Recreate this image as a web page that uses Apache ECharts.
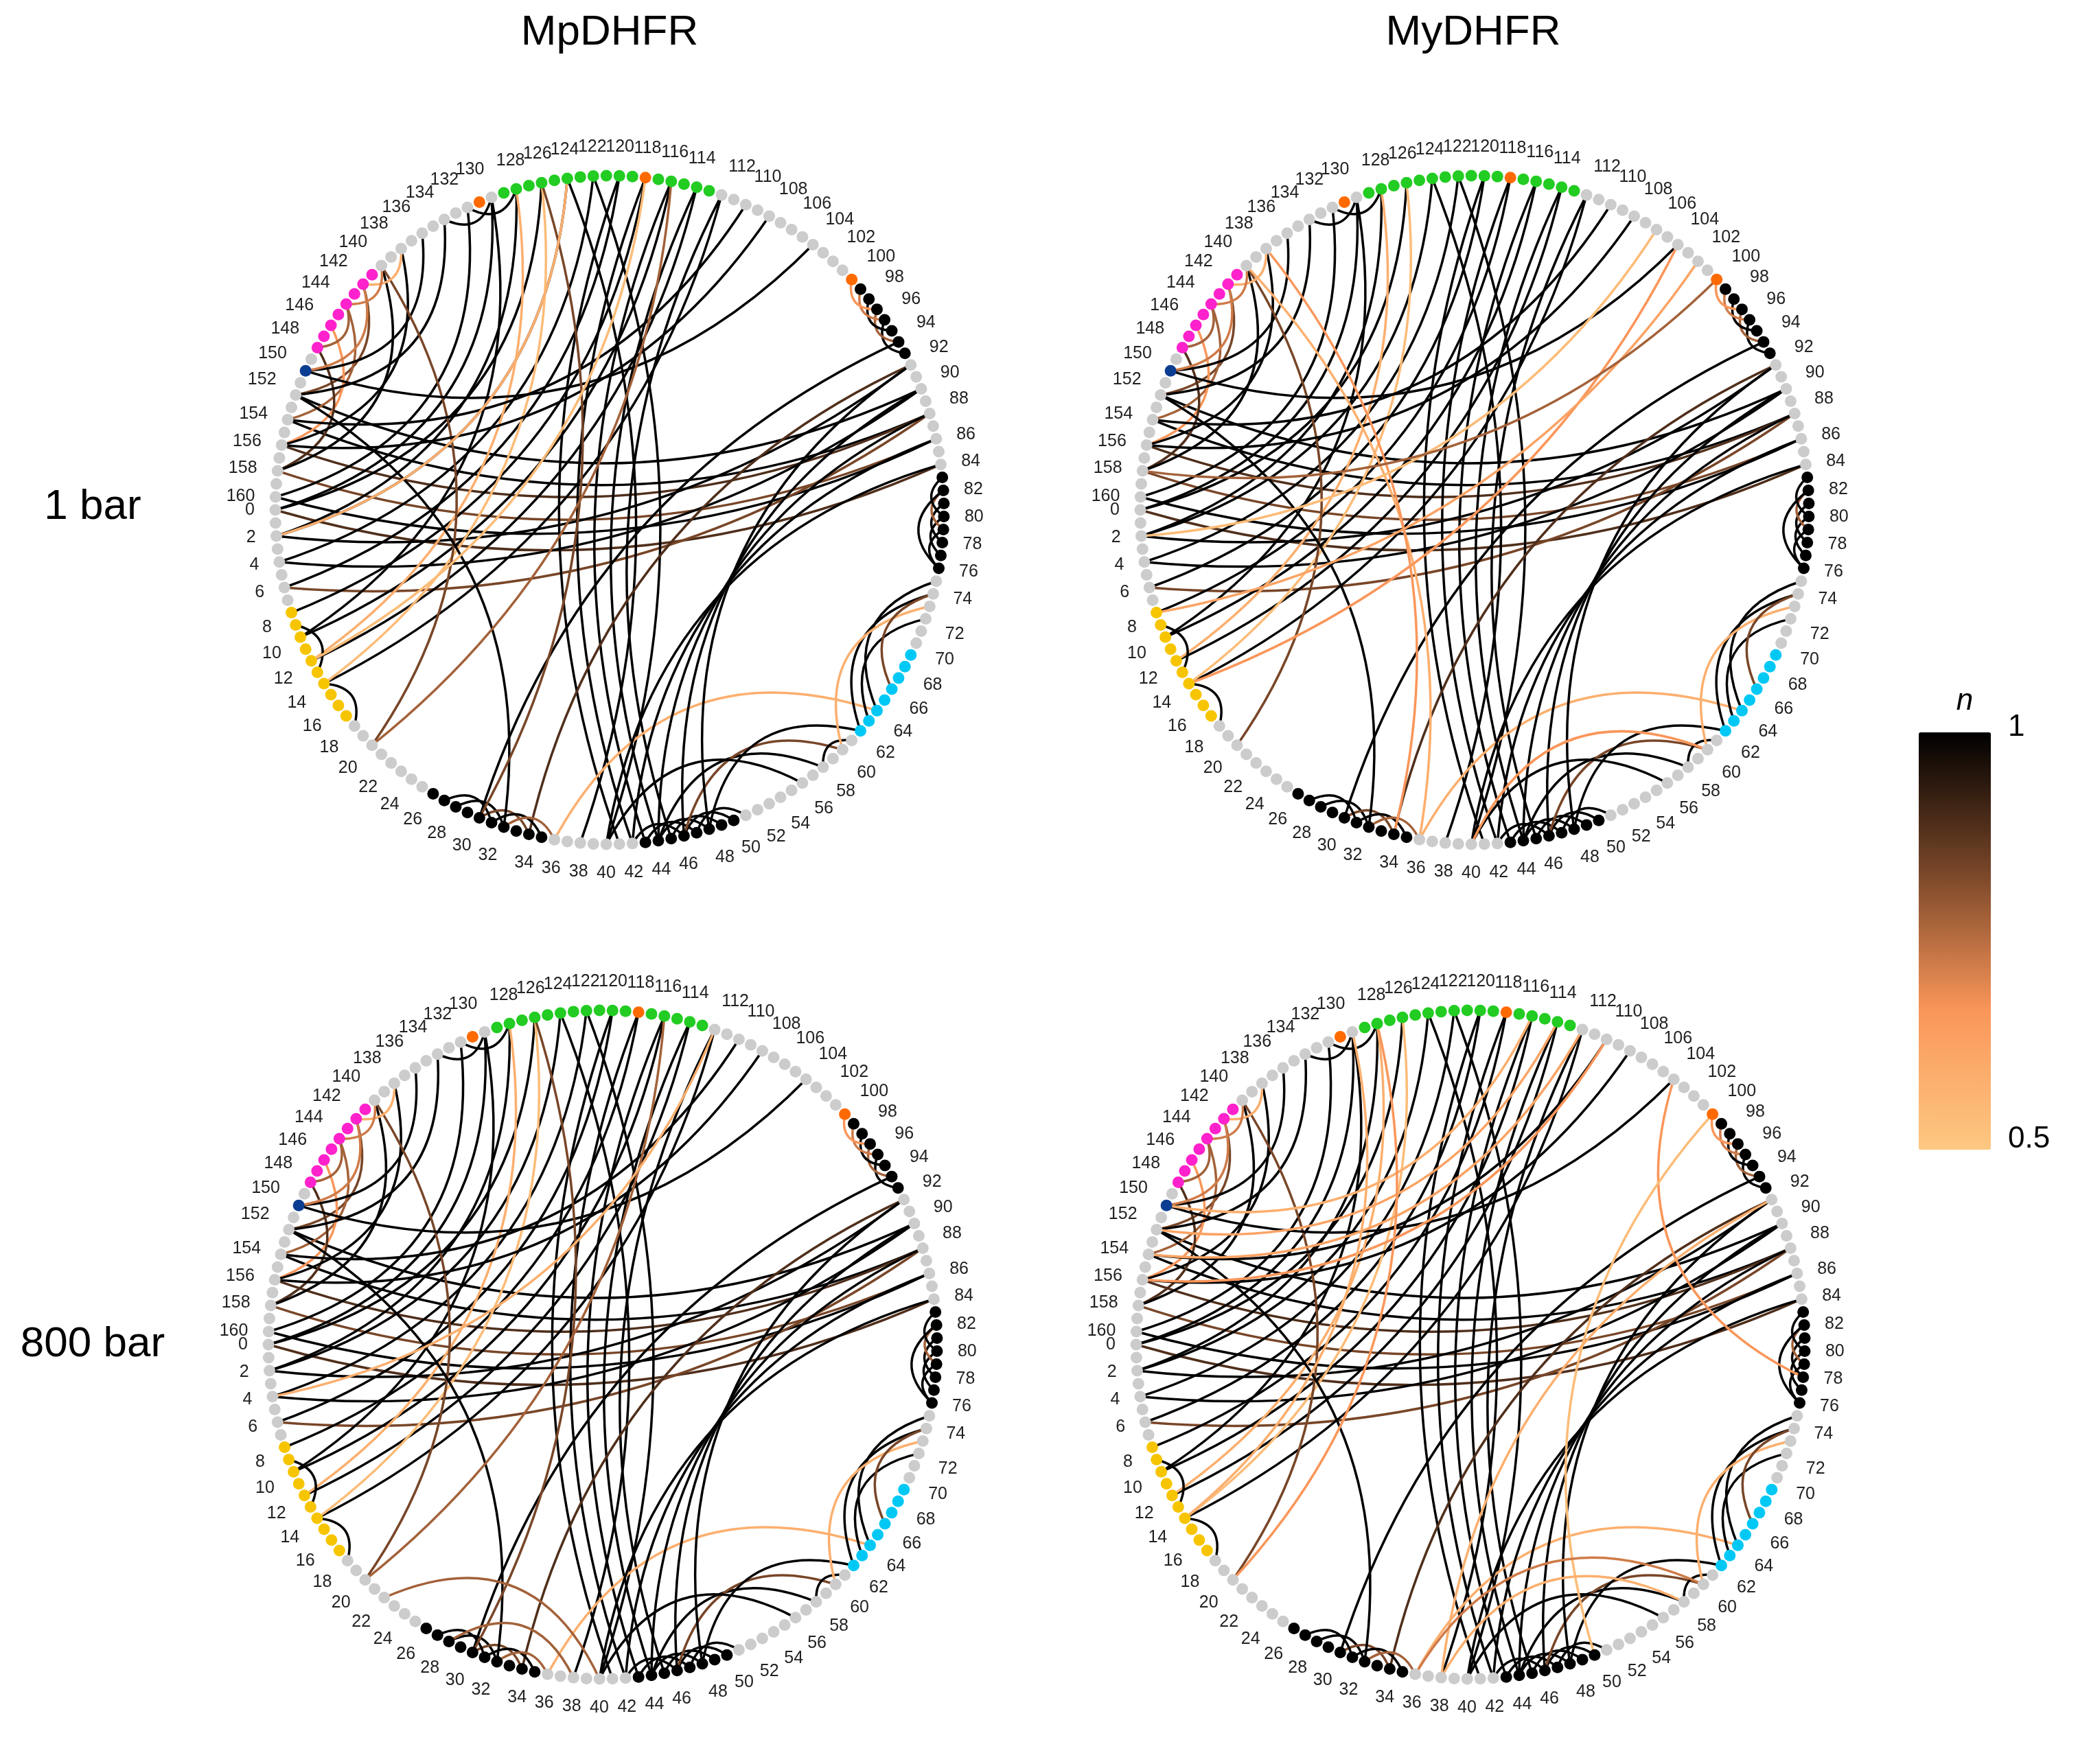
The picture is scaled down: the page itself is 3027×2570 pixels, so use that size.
<!DOCTYPE html>
<html><head><meta charset="utf-8">
<script src="https://cdn.jsdelivr.net/npm/echarts@6/dist/echarts.min.js"></script>
<style>html,body{margin:0;background:#fff}#c{width:3027px;height:2570px}</style>
</head><body><div id="c"></div>
<script>
// ---- data ----
const nodeCount = 161;
const tickLabels = Array.from({length: 81}, (_, k) => String(k * 2));
// colored residue segments [from, to, color]
const segments = [
  [8, 17, '#f7c500'], [26, 35, '#000000'], [43, 50, '#000000'], [62, 69, '#00c8f5'],
  [76, 83, '#000000'], [93, 99, '#000000'], [100, 100, '#ff6a00'], [113, 129, '#22cc22'],
  [118, 118, '#ff6a00'], [131, 131, '#ff6a00'], [141, 148, '#ff22cc'], [150, 150, '#0b3d91']
];
// contacts shared by all panels [residue a, residue b, n]
const baseEdges = [
  [152,90,1],[154,88,1],[156,88,0.9],[158,86,0.85],[160,86,1],[0,84,0.9],[2,92,1],[4,90,1],[6,88,0.85],
  [0,126,1],[2,124,1],[4,122,1],[6,120,1],[8,118,1],[10,116,1],[12,114,1],[14,112,1],
  [142,152,0.85],[144,154,0.8],[146,156,0.7],[148,158,0.9],[136,150,1],[134,152,1],[138,156,1],[140,158,1],[132,160,1],[130,0,1],[128,2,1],
  [124,38,1],[122,40,1],[120,41,1],[118,42,1],[116,43,1],[114,44,1],[112,45,1],
  [94,30,1],[92,34,0.9],[28,32,1],[30,34,0.85],[31,35,1],[32,36,0.8],[27,31,1],
  [43,47,1],[44,48,1],[45,49,1],[46,50,1],[47,51,1],[42,46,1],
  [58,44,1],[60,46,0.85],[62,48,1],[64,36,0.6],[56,40,1],[58,61,1],
  [74,62,1],[75,64,1],[73,60,0.6],[72,63,1],[74,66,0.85],
  [76,79,1],[77,80,1],[78,81,1],[79,82,0.8],[80,83,1],[76,82,1],
  [93,96,1],[94,97,0.8],[95,98,1],[96,99,0.75],[97,100,0.7],
  [44,88,1],[46,90,1],[48,92,1],[40,84,1],[42,86,1],
  [10,130,1],[12,128,0.6],[14,126,0.55],[20,140,0.85],[9,13,1],[14,18,1],
  [128,132,1],[130,134,1],[138,142,0.6],[140,144,0.75],[142,150,0.75],[144,148,0.8],
  [152,32,1],[150,104,1],[154,110,1],[156,108,1]
];
const edgesMpDHFR1bar = [[126,30,0.85],[124,2,0.6],[116,20,0.8],[12,118,0.55]];
const edgesMyDHFR1bar = [[140,36,0.6],[138,34,0.7],[104,14,0.7],[102,8,0.65],[106,2,0.55],[60,40,0.7],[158,100,0.8]];
const edgesMpDHFR800bar = [[126,30,0.85],[116,20,0.8],[4,112,0.6],[22,40,0.8],[28,38,0.8]];
const edgesMyDHFR800bar = [[152,114,0.65],[154,112,0.65],[156,110,0.7],[150,116,0.6],[104,78,0.7],[100,50,0.55],[92,38,0.6],[14,130,0.6],[20,128,0.7],[60,36,0.75],[58,38,0.6]];
const titles = ['MpDHFR', 'MyDHFR'];
const rowLabels = ['1 bar', '800 bar'];

// ---- helpers ----
const stops = [[0.5,[253,200,130]],[0.7,[250,150,90]],[0.85,[120,70,40]],[1,[0,0,0]]];
function colorOf(n){
  for (let i=1;i<stops.length;i++){
    if (n<=stops[i][0]){
      const a=stops[i-1],b=stops[i],t=(n-a[0])/(b[0]-a[0]);
      const c=a[1].map((v,k)=>Math.round(v+(b[1][k]-v)*t));
      return 'rgb('+c.join(',')+')';
    }
  }
  return '#000';
}
function nodeColor(i){
  let c='#cccccc';
  segments.forEach(s=>{ if(i>=s[0]&&i<=s[1]) c=s[2]; });
  return c;
}
const nodes = Array.from({length: nodeCount}, (_, i) => ({
  name: String(i), value: [1, i], itemStyle: {color: nodeColor(i)}
}));
function links(extra){
  return baseEdges.concat(extra).filter(e=>e[0]!==e[1]).map(e=>{
    let d=Math.abs(e[0]-e[1]); d=Math.min(d,nodeCount-d);
    const forward=((e[1]-e[0]+nodeCount)%nodeCount)<nodeCount/2;
    const cv=0.18+0.45*Math.pow(1-d/80,1.5);
    return {source:String(e[0]),target:String(e[1]),
      lineStyle:{color:colorOf(e[2]),width:3.5,opacity:1,curveness:forward?cv:-cv}};
  });
}
const centers=[[888,743],[2148,743],[878,1959],[2142,1959]];
const edgeSets=[edgesMpDHFR1bar,edgesMyDHFR1bar,edgesMpDHFR800bar,edgesMyDHFR800bar];
const polar=centers.map(c=>({center:c,radius:487}));
const angleAxis=centers.map((c,i)=>({polarIndex:i,type:'value',min:0,max:161,interval:2,startAngle:180,clockwise:false,
  axisLine:{show:false},axisTick:{show:false},splitLine:{show:false},
  axisLabel:{fontSize:25,color:'#222',margin:30,fontFamily:'Liberation Sans',formatter:v=>v>160?'':String(v)}}));
const radiusAxis=centers.map((c,i)=>({polarIndex:i,type:'value',min:0,max:1,show:false}));
const series=centers.map((c,i)=>({type:'graph',coordinateSystem:'polar',polarIndex:i,
  data:nodes,links:links(edgeSets[i]),symbolSize:17,z:3,silent:true,
  edgeSymbol:['none','none'],label:{show:false}}));
series.push({type:'scatter',coordinateSystem:'polar',polarIndex:0,data:[]});
const chart=echarts.init(document.getElementById('c'));
chart.setOption({
  backgroundColor:'#fff',animation:false,
  polar,angleAxis,radiusAxis,series,
  visualMap:{type:'continuous',min:0.5,max:1,seriesIndex:4,orient:'vertical',right:112,top:1052,
    itemWidth:105,itemHeight:608,text:['',''],calculable:false,
    inRange:{color:['#fdc882','#fa965a','#784628','#000000']},
    controller:{inRange:{color:['#fdc882','#fa965a','#784628','#000000']}}},
  graphic:[
    {type:'text',x:888,y:48,style:{text:titles[0],font:'62px Liberation Sans',fill:'#000',align:'center',verticalAlign:'middle'}},
    {type:'text',x:2146,y:48,style:{text:titles[1],font:'62px Liberation Sans',fill:'#000',align:'center',verticalAlign:'middle'}},
    {type:'text',x:135,y:739,style:{text:rowLabels[0],font:'62px Liberation Sans',fill:'#000',align:'center',verticalAlign:'middle'}},
    {type:'text',x:135,y:1959,style:{text:rowLabels[1],font:'62px Liberation Sans',fill:'#000',align:'center',verticalAlign:'middle'}},
    {type:'text',x:2862,y:1022,style:{text:'n',font:'italic 44px Liberation Sans',fill:'#000',align:'center',verticalAlign:'middle'}},
    {type:'text',x:2925,y:1060,style:{text:'1',font:'44px Liberation Sans',fill:'#000',align:'left',verticalAlign:'middle'}},
    {type:'text',x:2925,y:1660,style:{text:'0.5',font:'44px Liberation Sans',fill:'#000',align:'left',verticalAlign:'middle'}}
  ]
});
</script></body></html>
